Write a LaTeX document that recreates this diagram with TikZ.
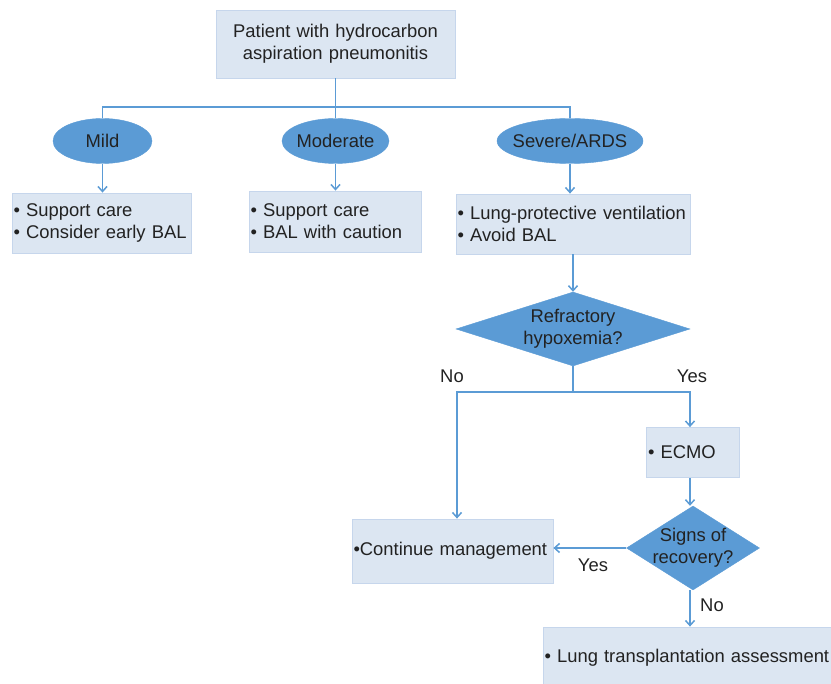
\documentclass[tikz,border=0pt]{standalone}
\usepackage{fontspec}
\setmainfont{Liberation Sans}
\usetikzlibrary{shapes.geometric, positioning, arrows.meta}
\definecolor{boxfill}{HTML}{DCE6F2}
\definecolor{boxline}{HTML}{C6D6EC}
\definecolor{darkfill}{HTML}{5B9BD5}
\definecolor{flowline}{HTML}{5B9BD5}
\definecolor{ink}{HTML}{222222}
\tikzset{
>={Straight Barb[length=5pt,width=9pt]}, % thin open arrow heads
flow/.style={draw=flowline, line width=1.5pt}, % every connector
infobox/.style={rectangle, draw=boxline, fill=boxfill, line width=0.8pt, align=left, inner xsep=1.5pt, inner ysep=0pt, text=ink}, % light boxes
grade/.style={ellipse, draw=darkfill, fill=darkfill, inner sep=0pt, minimum width=#1, minimum height=45pt}, % severity ovals
question/.style={diamond, draw=darkfill, fill=darkfill, inner sep=0pt}, % decisions
answer/.style={text=ink, inner sep=1pt}, % yes / no
}

\begin{document}
\begin{tikzpicture}[x=1pt, y=-1pt, font=\fontsize{18.4}{22}\selectfont]
    \useasboundingbox (0,0) rectangle (831,684);

    % start
    \node[infobox, align=center, text width=236pt, minimum height=68pt] (patient) at (335.5,44)
        {Patient with hydrocarbon\\aspiration pneumonitis};

    % severity
    \node[grade=99pt, label={[text=ink]center:Mild}] (mild) at (102.5,141) {};
    \node[grade=107pt, label={[text=ink]center:Moderate}] (moderate) at (335.5,141) {};
    \node[grade=146pt, label={[text=ink]center:Severe/ARDS}] (severe) at (570,141) {};
    \coordinate (bar) at (336,107);

    \node[infobox, text width=176pt, minimum height=60pt] (mildbox) at (101.5,223)
        {• Support care\\• Consider early BAL};
    \node[infobox, text width=169pt, minimum height=61pt] (modbox) at (335,221.5)
        {• Support care\\• BAL with caution};
    \node[infobox, text width=231pt, minimum height=60pt] (sevbox) at (573,224)
        {• Lung-protective ventilation\\• Avoid BAL};

    % refractory branch
    \node[question, minimum width=234pt, minimum height=74pt,
          label={[text=ink, align=center]center:Refractory\\hypoxemia?}] (refractory) at (573,329) {};
    \coordinate (fork) at (573,392);
    \node[answer] (no1) at (452,376) {No};
    \node[answer] (yes1) at (692,376) {Yes};

    \node[infobox, text width=90pt, minimum height=50pt] (ecmo) at (693,452.5) {• ECMO};
    \node[question, minimum width=133pt, minimum height=84pt,
          label={[text=ink, align=center]center:Signs of\\recovery?}] (signs) at (693,548) {};
    \node[infobox, text width=198pt, minimum height=64pt] (continue) at (452.5,551)
        {•Continue management};
    \node[infobox, text width=289pt, minimum height=62pt] (lung) at (689,658)
        {• Lung transplantation assessment};
    \node[answer] (yes2) at (593,565) {Yes};
    \node[answer] (no2) at (712,605) {No};

    % connectors
    \draw[flow] (patient.south) -- (moderate.north);
    \draw[flow] (mild.north) -- (mild.north |- bar) -- (severe.north |- bar) -- (severe.north);
    \draw[flow, ->] (mild.south) -- (mild.south |- mildbox.north);
    \draw[flow, ->] (moderate.south) -- (moderate.south |- modbox.north);
    \draw[flow, ->] (severe.south) -- (severe.south |- sevbox.north);
    \draw[flow, ->] (sevbox.south) -- (refractory.north);
    \draw[flow] (refractory.south) -- (fork);
    \draw[flow, ->] (fork) -| ([xshift=4.5pt]continue.north);
    \draw[flow, ->] (fork) -| ([xshift=-3pt]ecmo.north);
    \draw[flow, ->] ([xshift=-3pt]ecmo.south) -- ([xshift=-3pt]signs.north);
    \draw[flow, ->] (signs.west) -- (signs.west -| continue.east);
    \draw[flow, ->] ([xshift=-3pt]signs.south) -- ([xshift=-3pt]signs.south |- lung.north);
\end{tikzpicture}
\end{document}
